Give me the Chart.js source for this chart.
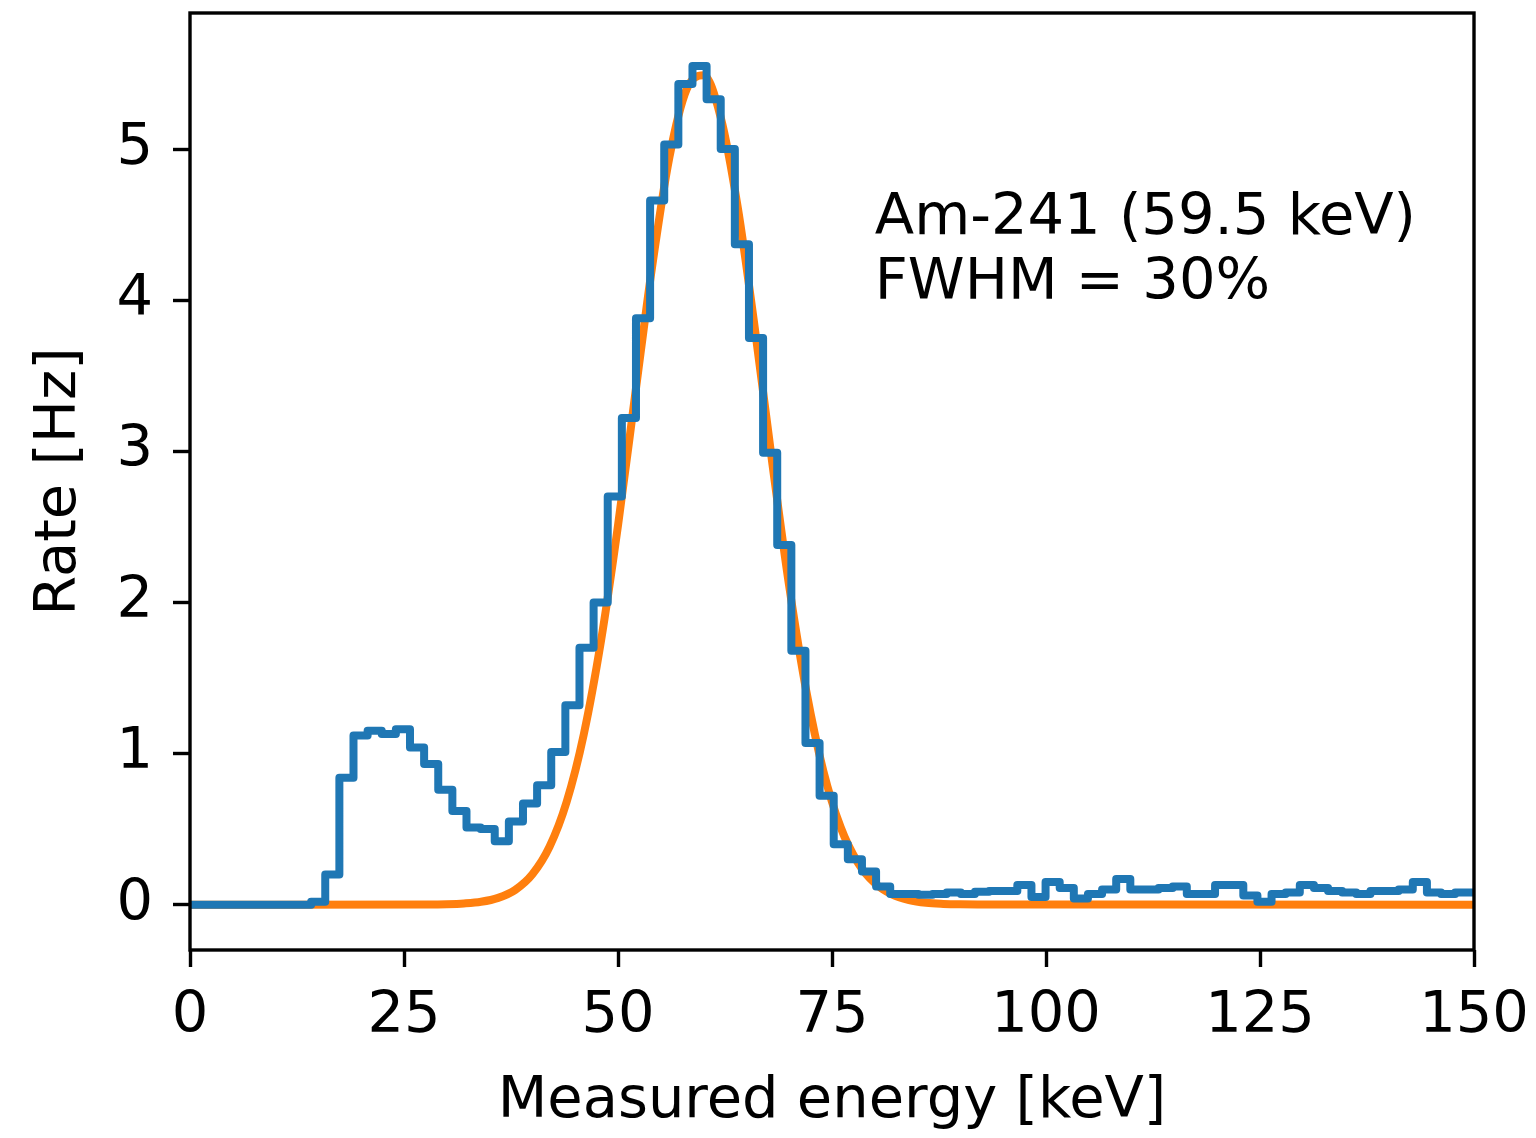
<!DOCTYPE html>
<html>
<head>
<meta charset="utf-8">
<title>Am-241 spectrum</title>
<script src="https://cdn.jsdelivr.net/npm/chart.js@4"></script>
<style>
    html, body { margin: 0; padding: 0; background: #fff; }
    canvas { display: block; }
</style>
</head>
<body>
<canvas id="spectrum" width="1536" height="1138"></canvas>
<script>
// histogram bins (keV): first bin edge and width
const binStart = 0.95;
const binWidth = 1.65;

// measured rate per bin [Hz]
const measuredRate = [
    0, 0, 0, 0, 0, 0, 0, 0, 0.02, 0.20,
    0.84, 1.12, 1.15, 1.13, 1.16, 1.04, 0.93, 0.76, 0.62, 0.51,
    0.50, 0.42, 0.55, 0.67, 0.79, 1.01, 1.32, 1.70, 2.00, 2.70,
    3.22, 3.88, 4.66, 5.03, 5.43, 5.55, 5.33, 5.00, 4.37, 3.75,
    2.99, 2.38, 1.68, 1.07, 0.72, 0.40, 0.30, 0.22, 0.12, 0.07,
    0.07, 0.065, 0.07, 0.08, 0.07, 0.085, 0.09, 0.09, 0.13, 0.05,
    0.15, 0.11, 0.04, 0.07, 0.10, 0.17, 0.10, 0.10, 0.11, 0.12,
    0.07, 0.07, 0.13, 0.13, 0.06, 0.02, 0.07, 0.08, 0.13, 0.11,
    0.09, 0.08, 0.07, 0.09, 0.09, 0.10, 0.15, 0.08, 0.07, 0.08,
    0.08
];

// fitted peak, sampled (keV, Hz)
const fitEnergy = [0, 28, 30, 32, 34, 36, 38, 40, 42, 44, 46, 48, 50, 52, 54, 56, 58, 60,
    62, 64, 66, 68, 70, 72, 74, 76, 78, 80, 82, 84, 86, 88, 90, 92, 150];
const fitRate = [0, 0.001, 0.003, 0.008, 0.019, 0.045, 0.098, 0.201, 0.383, 0.680, 1.126, 1.740, 2.509, 3.372, 4.227, 4.944, 5.393, 5.488,
    5.209, 4.611, 3.808, 2.933, 2.107, 1.412, 0.882, 0.514, 0.280, 0.142, 0.067, 0.030, 0.012, 0.005, 0.002, 0.001, 0];

const xTicks = [0, 25, 50, 75, 100, 125, 150];
const yTicks = [0, 1, 2, 3, 4, 5];

const labelLines = ['Am-241 (59.5 keV)', 'FWHM = 30%'];

const FONT = 'DejaVu Sans';
const FONT_SIZE = 57.5;
Chart.defaults.font.family = FONT;
Chart.defaults.color = '#000';

function histPoints() {
    const pts = [{ x: 0, y: measuredRate[0] }];
    measuredRate.forEach((v, i) => pts.push({ x: binStart + i * binWidth, y: v }));
    pts.push({ x: binStart + measuredRate.length * binWidth, y: measuredRate[measuredRate.length - 1] });
    return pts;
}

const boxPlugin = {
    id: 'box',
    afterDatasetsDraw(chart) {
        const { ctx, chartArea: a } = chart;
        ctx.save();
        ctx.strokeStyle = '#000';
        ctx.lineWidth = 3.4;
        ctx.strokeRect(a.left, a.top, a.right - a.left, a.bottom - a.top);
        ctx.restore();
    }
};

const notePlugin = {
    id: 'note',
    afterDraw(chart) {
        const { ctx, scales } = chart;
        const x = scales.x.getPixelForValue(80.0);
        const y = scales.y.getPixelForValue(4.44);
        ctx.save();
        ctx.fillStyle = '#000';
        ctx.font = `${FONT_SIZE}px "${FONT}"`;
        ctx.textBaseline = 'alphabetic';
        ctx.textAlign = 'left';
        labelLines.forEach((t, i) => ctx.fillText(t, x, y + i * 65));
        ctx.restore();
    }
};

const tickFont = { size: FONT_SIZE };

new Chart(document.getElementById('spectrum'), {
    type: 'line',
    data: {
        datasets: [
            {
                label: 'measured',
                data: histPoints(),
                stepped: 'before',
                borderColor: '#1f77b4',
                borderWidth: 8,
                borderJoinStyle: 'round',
                pointRadius: 0,
                fill: false,
                clip: 0
            },
            {
                label: 'fit',
                data: fitEnergy.map((e, i) => ({ x: e, y: fitRate[i] })),
                borderColor: '#ff7f0e',
                borderWidth: 8,
                cubicInterpolationMode: 'monotone',
                pointRadius: 0,
                fill: false,
                clip: 0
            }
        ]
    },
    options: {
        responsive: false,
        animation: false,
        devicePixelRatio: 1,
        layout: { padding: { top: 13, right: 62, left: 0, bottom: 0 } },
        plugins: {
            legend: { display: false },
            tooltip: { enabled: false }
        },
        scales: {
            x: {
                type: 'linear',
                min: 0,
                max: 150,
                afterBuildTicks: s => { s.ticks = xTicks.map(v => ({ value: v })); },
                afterFit: s => { s.height = 188; s.paddingLeft = 0; s.paddingRight = 0; },
                ticks: { font: tickFont, padding: 16, maxRotation: 0, autoSkip: false },
                grid: { drawOnChartArea: false, drawTicks: true, tickLength: 17, tickWidth: 3.4, tickColor: '#000' },
                border: { display: false },
                title: { display: true, text: 'Measured energy [keV]', font: { size: FONT_SIZE }, padding: { top: 0, bottom: 1 } }
            },
            y: {
                type: 'linear',
                min: -0.3,
                max: 5.9,
                afterBuildTicks: s => { s.ticks = yTicks.map(v => ({ value: v })); },
                afterFit: s => { s.width = 190; s.paddingTop = 0; s.paddingBottom = 0; },
                ticks: { font: tickFont, padding: 20 },
                grid: { drawOnChartArea: false, drawTicks: true, tickLength: 17, tickWidth: 3.4, tickColor: '#000' },
                border: { display: false },
                title: { display: true, text: 'Rate [Hz]', font: { size: FONT_SIZE }, padding: { top: 26, bottom: 0 } }
            }
        }
    },
    plugins: [boxPlugin, notePlugin]
});
</script>
</body>
</html>
